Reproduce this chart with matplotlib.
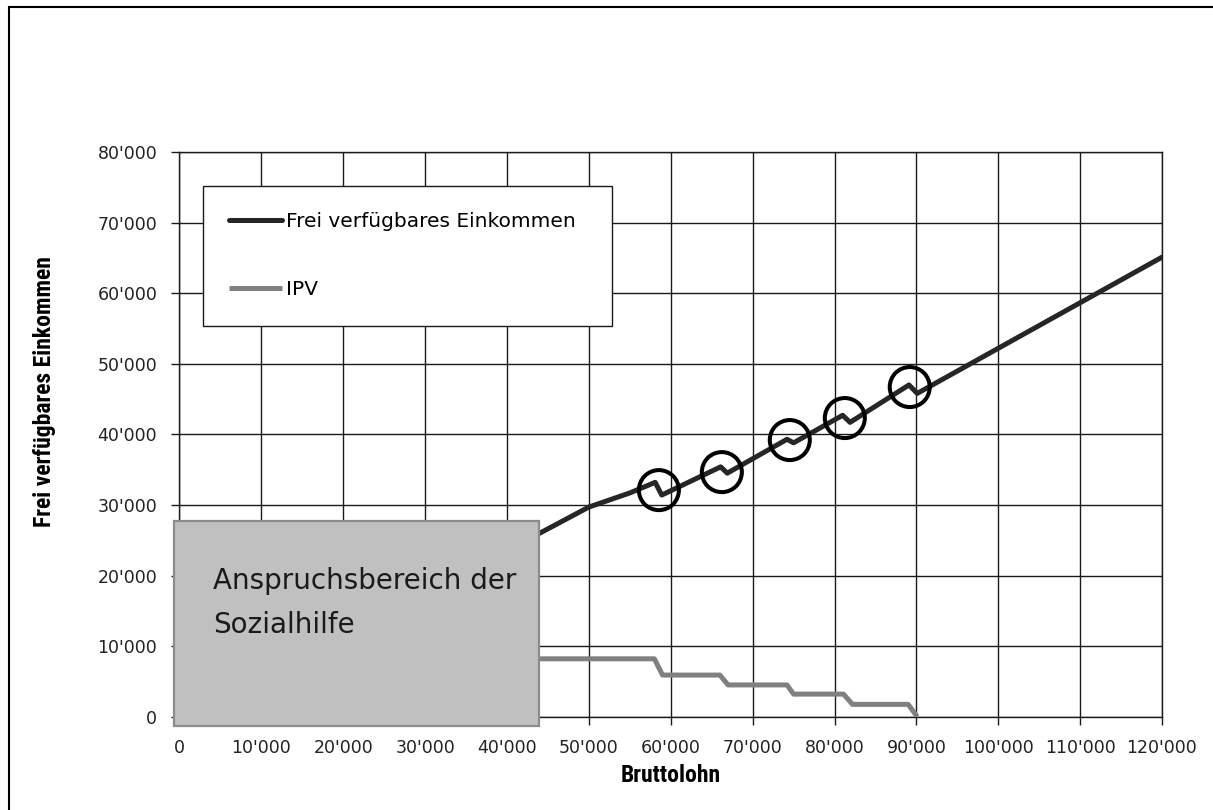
import matplotlib
matplotlib.use("Agg")
import matplotlib.pyplot as plt
from matplotlib.patches import Rectangle
from matplotlib.ticker import FuncFormatter, MultipleLocator

# Frei verfügbares Einkommen (schwarze Linie)
lohn_fve = [40000, 44000, 50000, 55000, 58100, 58900, 66100, 66900,
            74200, 75000, 81000, 81900, 89100, 90100, 120000]
fve = [23500, 26000, 29700, 31700, 33200, 31400, 35400, 34500,
       39300, 38800, 42700, 41700, 47000, 45800, 65100]

# IPV (graue Stufenlinie)
lohn_ipv = [0, 58000, 59000, 66000, 67000, 74200, 75000, 81100, 82200, 89000, 90100]
ipv = [8200, 8200, 5900, 5900, 4500, 4500, 3200, 3200, 1750, 1750, 0]

# Schwelleneffekte (Kreise)
kreis_x = [58550, 66240, 74540, 81260, 89190]
kreis_y = [32100, 34650, 39190, 42310, 46700]

# Anspruchsbereich der Sozialhilfe
sh_x0, sh_x1 = -700, 43950
sh_y0, sh_y1 = -1300, 27700

W, H = 1213, 810
fig = plt.figure(figsize=(W / 100, H / 100), dpi=100)
ax = fig.add_axes([179.5 / W, 1 - 716.7 / H, 982.5 / W, 564.7 / H])

ax.plot(lohn_fve, fve, color="#262626", lw=3.6, solid_capstyle="round",
        label="Frei verfügbares Einkommen", zorder=3)
ax.plot(lohn_ipv, ipv, color="#808080", lw=3.6, solid_capstyle="butt",
        label="IPV", zorder=3)
ax.scatter(kreis_x, kreis_y, s=830, facecolors="none", edgecolors="black",
           linewidths=2.9, zorder=4)

ax.set_xlim(0, 120000)
ax.set_ylim(0, 80000)
ax.xaxis.set_major_locator(MultipleLocator(10000))
ax.yaxis.set_major_locator(MultipleLocator(10000))
fmt = FuncFormatter(lambda v, p: f"{v:,.0f}".replace(",", "'"))
ax.xaxis.set_major_formatter(fmt)
ax.yaxis.set_major_formatter(fmt)
ax.grid(True, color="#1a1a1a", lw=1.0)
ax.set_axisbelow(True)
for s in ax.spines.values():
    s.set_color("#1a1a1a")
    s.set_linewidth(1.0)
ax.tick_params(direction="out", length=6, width=1.0, color="#1a1a1a",
               labelsize=12.5, labelcolor="#222222")
ax.tick_params(axis="x", pad=10)
ax.tick_params(axis="y", pad=10)

# graue Box über dem Sozialhilfebereich
box = Rectangle((sh_x0, sh_y0), sh_x1 - sh_x0, sh_y1 - sh_y0,
                facecolor="#c0c0c0", edgecolor="#8c8c8c", lw=1.6,
                clip_on=False, zorder=5)
ax.add_patch(box)
ax.text(4100, 21200, "Anspruchsbereich der\nSozialhilfe", fontsize=20,
        color="#1a1a1a", va="top", ha="left", linespacing=1.72, zorder=6)

leg = ax.legend(loc="upper left", bbox_to_anchor=(0.024, 0.695, 0.416, 0.245),
                mode="expand", fancybox=False, framealpha=1, edgecolor="#1a1a1a",
                fontsize=14.5, handlelength=2.6, handletextpad=0.2,
                labelspacing=2.45, borderpad=1.3, borderaxespad=0)
leg.get_frame().set_linewidth(1.0)
leg.set_zorder(7)

label_fonts = ["Liberation Sans Narrow", "Roboto Condensed", "Roboto", "DejaVu Sans"]
fig.text(45 / W, 1 - 392 / H, "Frei verfügbares Einkommen", rotation=90,
         ha="center", va="center", fontsize=17, fontweight="bold",
         fontstretch="condensed", family=label_fonts)
fig.text(671 / W, 1 - 775 / H, "Bruttolohn", ha="center", va="center",
         fontsize=17, fontweight="bold", fontstretch="condensed",
         family=label_fonts)

# Rahmen um das ganze Bild
fig.patches.append(Rectangle((9 / W, -0.1), 2, 1.1 - 7 / H, transform=fig.transFigure,
                             fill=False, edgecolor="black", lw=1.5))

fig.savefig("out.png", dpi=100)
